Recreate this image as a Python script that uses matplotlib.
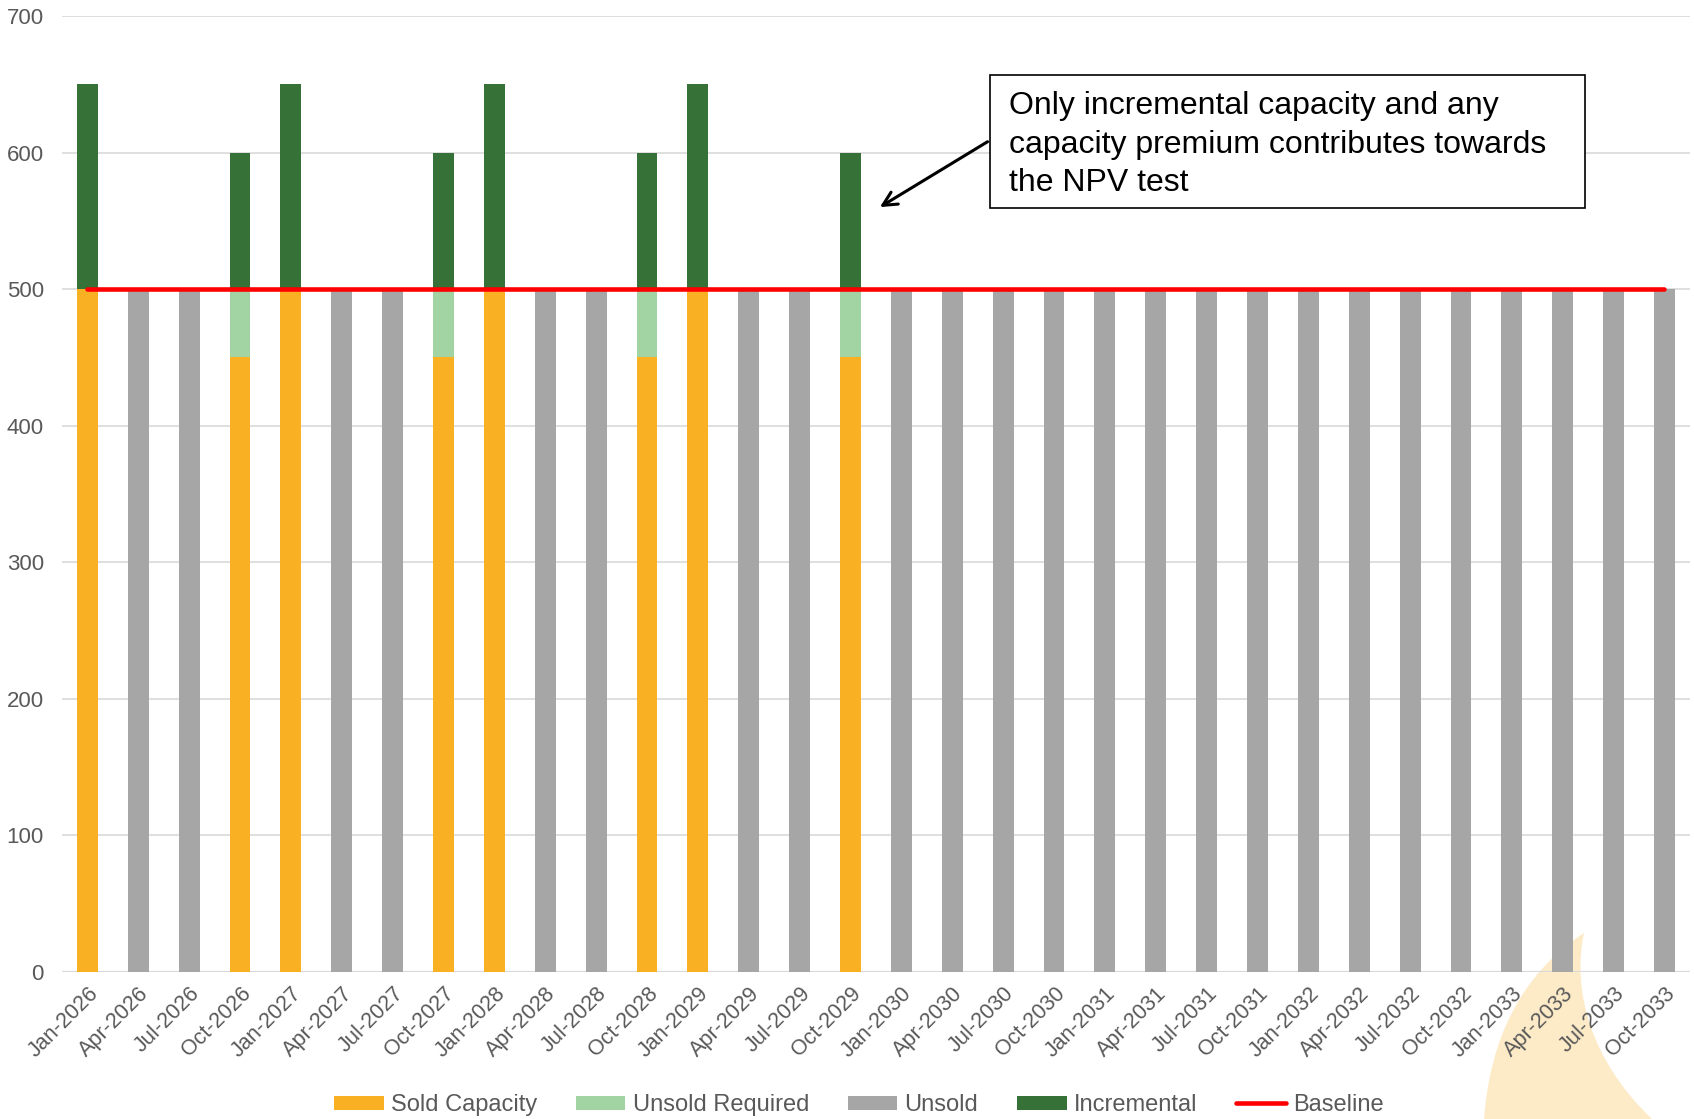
import numpy as np
import matplotlib.pyplot as plt
from matplotlib.path import Path
from matplotlib.patches import PathPatch, Rectangle

plt.rcParams['font.family'] = ['Liberation Sans', 'DejaVu Sans']

# quarters and capacity stacks
quarters = ['Jan-2026', 'Apr-2026', 'Jul-2026', 'Oct-2026',
            'Jan-2027', 'Apr-2027', 'Jul-2027', 'Oct-2027',
            'Jan-2028', 'Apr-2028', 'Jul-2028', 'Oct-2028',
            'Jan-2029', 'Apr-2029', 'Jul-2029', 'Oct-2029',
            'Jan-2030', 'Apr-2030', 'Jul-2030', 'Oct-2030',
            'Jan-2031', 'Apr-2031', 'Jul-2031', 'Oct-2031',
            'Jan-2032', 'Apr-2032', 'Jul-2032', 'Oct-2032',
            'Jan-2033', 'Apr-2033', 'Jul-2033', 'Oct-2033']
sold = [500, 0, 0, 450, 500, 0, 0, 450, 500, 0, 0, 450, 500, 0, 0, 450] + [0] * 16
unsold_required = [0, 0, 0, 50, 0, 0, 0, 50, 0, 0, 0, 50, 0, 0, 0, 50] + [0] * 16
unsold = [0, 500, 500, 0, 0, 500, 500, 0, 0, 500, 500, 0, 0, 500, 500, 0] + [500] * 16
incremental = [150, 0, 0, 100, 150, 0, 0, 100, 150, 0, 0, 100, 150, 0, 0, 100] + [0] * 16
baseline = [500] * 32

grey_txt = '#595959'

fig = plt.figure(figsize=(16.94, 11.19), dpi=100)
ax = fig.add_axes([0.0366, 0.1314, 0.961, 0.8543])
ax.set_facecolor('none')

# faint flame watermark behind the chart
W, H = 1694, 1119
pts = [(1484, 1119), (1490, 1040), (1520, 975), (1584, 933),
       (1572, 990), (1590, 1060), (1652, 1119), (1484, 1119)]
codes = [Path.MOVETO, Path.CURVE4, Path.CURVE4, Path.CURVE4,
         Path.CURVE4, Path.CURVE4, Path.CURVE4, Path.CLOSEPOLY]
verts = [(px / W, 1 - py / H) for px, py in pts]
fig.patches.append(PathPatch(Path(verts, codes), transform=fig.transFigure,
                             facecolor='#FDEBC8', edgecolor='none', zorder=-10))

x = np.arange(len(quarters))
w = 0.41
b1 = np.array(sold)
b2 = b1 + np.array(unsold_required)
b3 = b2 + np.array(unsold)
h1 = ax.bar(x, sold, w, color='#F9B023', label='Sold Capacity', zorder=2)
h2 = ax.bar(x, unsold_required, w, bottom=b1, color='#A1D4A2', label='Unsold Required', zorder=2)
h3 = ax.bar(x, unsold, w, bottom=b2, color='#A6A6A6', label='Unsold', zorder=2)
h4 = ax.bar(x, incremental, w, bottom=b3, color='#367238', label='Incremental', zorder=2)
h5, = ax.plot(x, baseline, color='#FF0000', lw=3.3, solid_capstyle='round', label='Baseline', zorder=3)

ax.set_xlim(-0.5, len(quarters) - 0.5)
ax.set_ylim(0, 700)
ax.set_yticks(range(0, 701, 100))
ax.yaxis.grid(True, color='#D9D9D9', lw=1.2, zorder=0)
ax.set_axisbelow(True)
for s in ax.spines.values():
    s.set_visible(False)
ax.axhline(0, color='#D9D9D9', lw=1.6, zorder=1)
ax.tick_params(length=0, colors=grey_txt)
ax.tick_params(axis='y', pad=13, labelsize=16)
ax.tick_params(axis='x', pad=8, labelsize=15.5)
ax.set_xticks(x)
ax.set_xticklabels(quarters, rotation=45, ha='right', rotation_mode='anchor')

# callout
ax.add_patch(Rectangle((0.570, 0.799), 0.3655, 0.1393, transform=ax.transAxes,
                       facecolor='white', edgecolor='black', lw=1.2, zorder=5))
ax.text(0.5817, 0.8655,
        'Only incremental capacity and any\ncapacity premium contributes towards\nthe NPV test',
        transform=ax.transAxes, fontsize=23, color='black', va='center', ha='left',
        linespacing=1.36, zorder=6)
ax.annotate('', xy=(15.53, 559), xycoords='data',
            xytext=(0.570, 0.870), textcoords='axes fraction',
            arrowprops=dict(arrowstyle='->', color='black', lw=2.2, mutation_scale=25),
            zorder=6)

fig.legend(handles=[h1, h2, h3, h4, h5], loc='center', bbox_to_anchor=(0.507, 0.0125),
           ncol=5, frameon=False, fontsize=17, labelcolor=grey_txt, handlelength=2.1,
           handleheight=0.55, handletextpad=0.3, columnspacing=1.65)

fig.savefig('out.png', dpi=100)
